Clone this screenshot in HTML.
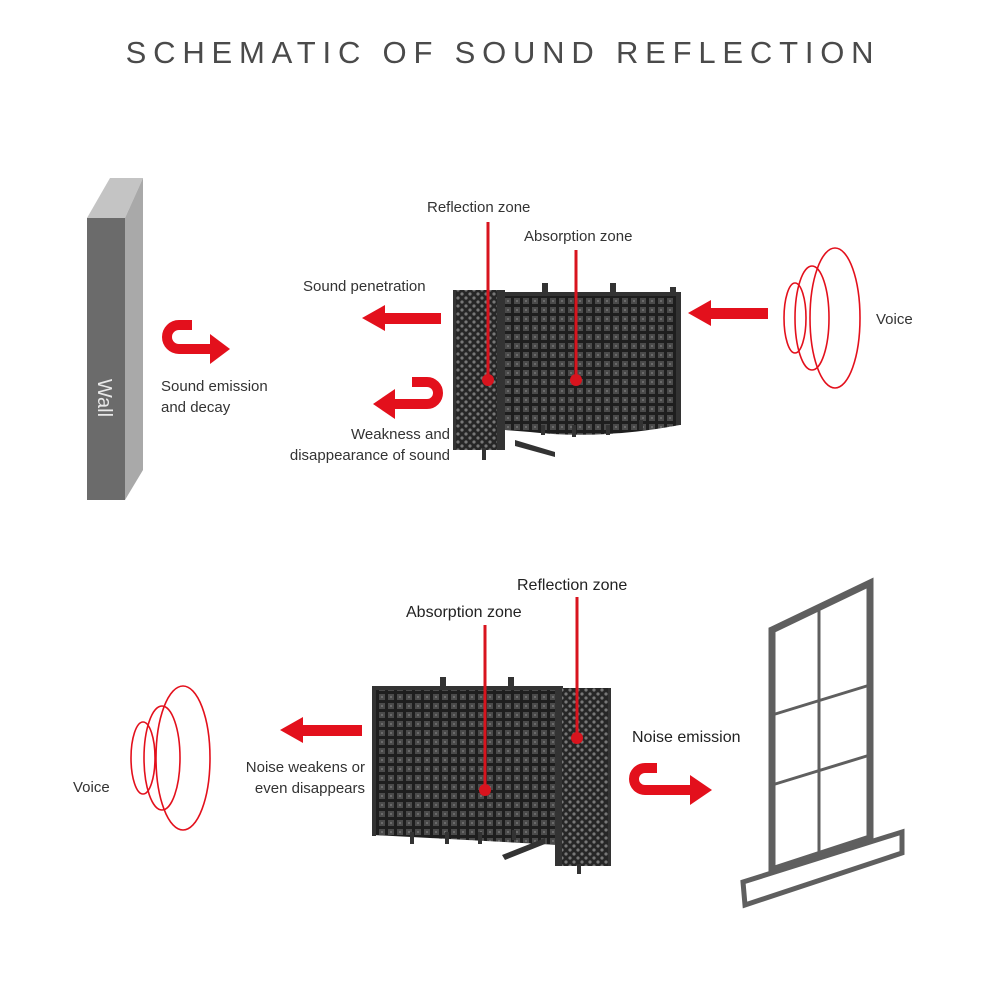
<!DOCTYPE html>
<html><head><meta charset="utf-8"><style>
html,body{margin:0;padding:0;background:#fff;}
svg{display:block;font-family:"Liberation Sans",sans-serif;}
</style></head><body>
<svg width="1001" height="1001" viewBox="0 0 1001 1001" xmlns="http://www.w3.org/2000/svg">
<defs>
<pattern id="foam" width="9" height="9" patternUnits="userSpaceOnUse">
<rect width="9" height="9" fill="#1e1e1e"/>
<rect x="1" y="1" width="6" height="6" fill="#4a4a4a"/>
<rect x="3" y="3" width="2" height="2" fill="#6a6a6a"/>
</pattern>
<pattern id="perf" width="8" height="8" patternUnits="userSpaceOnUse">
<rect width="8" height="8" fill="#262626"/>
<circle cx="2" cy="2" r="1.6" fill="#777"/>
<circle cx="6" cy="6" r="1.6" fill="#777"/>
</pattern>
</defs>

<text x="503" y="63" text-anchor="middle" font-size="31" letter-spacing="6.8" fill="#4a4a4a">SCHEMATIC OF SOUND REFLECTION</text>

<!-- Wall -->
<polygon points="87,218 110,178 143,178 125,218" fill="#c4c4c4"/>
<polygon points="125,218 143,178 143,470 125,500" fill="#a9a9a9"/>
<rect x="87" y="218" width="38" height="282" fill="#6b6b6b"/>
<text transform="translate(98,398) rotate(90)" font-size="20" fill="#e8e8e8" text-anchor="middle">Wall</text>

<!-- Top screen -->
<path d="M505,292 L680,292 L680,425 Q600,440 530,432 L505,430 Z" fill="url(#foam)"/>
<rect x="504" y="292" width="177" height="4" fill="#333"/>
<rect x="676" y="292" width="5" height="133" fill="#333"/>
<g fill="#333"><rect x="542" y="283" width="6" height="10"/><rect x="610" y="283" width="6" height="10"/><rect x="670" y="287" width="6" height="8"/>
<rect x="541" y="425" width="4" height="10"/><rect x="572" y="425" width="4" height="12"/><rect x="606" y="425" width="4" height="10"/><rect x="639" y="420" width="4" height="10"/></g>
<path d="M515,440 L555,452 L555,457 L515,446Z" fill="#333"/>
<rect x="453" y="290" width="52" height="160" fill="url(#perf)"/>
<rect x="497" y="290" width="8" height="160" fill="#333"/>
<rect x="453" y="290" width="3" height="160" fill="#333"/>
<rect x="482" y="448" width="4" height="12" fill="#333"/>

<!-- Bottom screen -->
<path d="M373,688 L560,688 L560,845 L373,835 Z" fill="url(#foam)"/>
<rect x="373" y="686" width="190" height="4" fill="#333"/>
<rect x="372" y="686" width="4" height="150" fill="#333"/>
<g fill="#333"><rect x="440" y="677" width="6" height="10"/><rect x="508" y="677" width="6" height="10"/>
<rect x="410" y="832" width="4" height="12"/><rect x="445" y="832" width="4" height="12"/><rect x="478" y="832" width="4" height="12"/><rect x="512" y="830" width="4" height="10"/></g>
<path d="M502,855 L545,838 L545,844 L505,860Z" fill="#333"/>
<rect x="555" y="688" width="56" height="178" fill="url(#perf)"/>
<rect x="555" y="688" width="7" height="178" fill="#333"/>
<rect x="608" y="688" width="3" height="178" fill="#333"/>
<rect x="577" y="864" width="4" height="10" fill="#333"/>

<!-- Leaders -->
<g stroke="#d8141e" stroke-width="3" fill="#d8141e">
<line x1="488" y1="222" x2="488" y2="380"/><circle cx="488" cy="380" r="6" stroke="none"/>
<line x1="576" y1="250" x2="576" y2="380"/><circle cx="576" cy="380" r="6" stroke="none"/>
<line x1="485" y1="625" x2="485" y2="790"/><circle cx="485" cy="790" r="6" stroke="none"/>
<line x1="577" y1="597" x2="577" y2="738"/><circle cx="577" cy="738" r="6" stroke="none"/>
</g>

<!-- Straight arrows -->
<g fill="#e3101c">
<polygon points="362,318 385,305 385,313 441,313 441,324 385,324 385,331"/>
<polygon points="688,313 711,300 711,308 768,308 768,319 711,319 711,326"/>
<polygon points="280,730 303,717 303,725 362,725 362,736 303,736 303,743"/>
</g>

<!-- U arrows -->
<g fill="none" stroke="#e3101c" stroke-width="10">
<path d="M192,325 H179 A12,12 0 0 0 179,349 H212"/>
<path d="M412,382 H427 A11,11 0 0 1 427,404 H393"/>
<path d="M657,768 H645 A11,11 0 0 0 645,790 H692"/>
</g>
<g fill="#e3101c">
<polygon points="210,334 230,349 210,364"/>
<polygon points="395,389 373,404 395,419"/>
<polygon points="690,775 712,790 690,805"/>
</g>

<!-- Ellipses -->
<g fill="none" stroke="#e3101c" stroke-width="1.6">
<ellipse cx="835" cy="318" rx="25" ry="70"/>
<ellipse cx="812" cy="318" rx="17" ry="52"/>
<ellipse cx="795" cy="318" rx="11" ry="35"/>
<ellipse cx="183" cy="758" rx="27" ry="72"/>
<ellipse cx="162" cy="758" rx="18" ry="52"/>
<ellipse cx="143" cy="758" rx="12" ry="36"/>
</g>

<!-- Window -->
<g fill="none" stroke="#5f5f5f" stroke-linejoin="miter">
<polygon points="772,630 870,583 870,838 772,870" stroke-width="7"/>
<line x1="819" y1="610" x2="819" y2="855" stroke-width="3"/>
<line x1="772" y1="715" x2="870" y2="685" stroke-width="3"/>
<line x1="772" y1="785" x2="870" y2="755" stroke-width="3"/>
<polygon points="743,882 902,832 902,853 745,905" stroke-width="5"/>
</g>

<!-- Labels -->
<g font-size="15" fill="#333">
<text x="427" y="212">Reflection zone</text>
<text x="524" y="241">Absorption zone</text>
<text x="303" y="291">Sound penetration</text>
<text x="876" y="324">Voice</text>
<text x="161" y="391">Sound emission</text>
<text x="161" y="412">and decay</text>
<text x="450" y="439" text-anchor="end">Weakness and</text>
<text x="450" y="460" text-anchor="end">disappearance of sound</text>
<text x="73" y="792">Voice</text>
<text x="365" y="772" text-anchor="end">Noise weakens or</text>
<text x="365" y="793" text-anchor="end">even disappears</text>
</g>
<g font-size="16" fill="#222">
<text x="517" y="590">Reflection zone</text>
<text x="406" y="617">Absorption zone</text>
<text x="632" y="742">Noise emission</text>
</g>
</svg>
</body></html>
